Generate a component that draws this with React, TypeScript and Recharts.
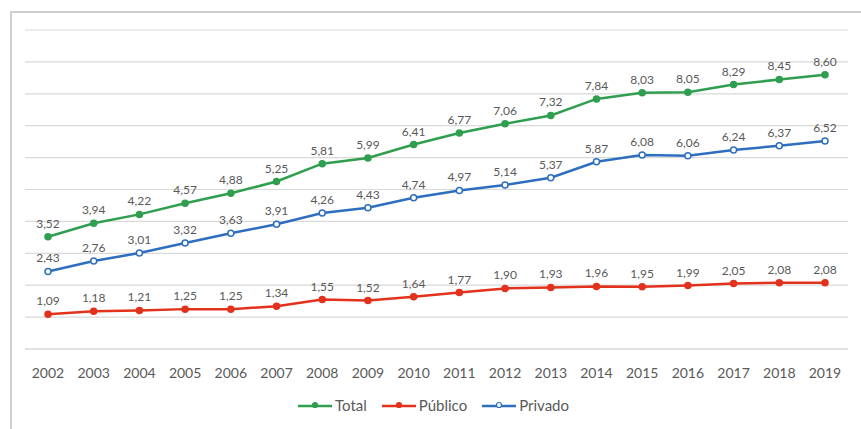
import React from "react";
import { LineChart, Line, XAxis, YAxis, CartesianGrid, LabelList } from "recharts";

const years = ["2002","2003","2004","2005","2006","2007","2008","2009","2010","2011","2012","2013","2014","2015","2016","2017","2018","2019"];
const total = [3.52,3.94,4.22,4.57,4.88,5.25,5.81,5.99,6.41,6.77,7.06,7.32,7.84,8.03,8.05,8.29,8.45,8.60];
const publico = [1.09,1.18,1.21,1.25,1.25,1.34,1.55,1.52,1.64,1.77,1.90,1.93,1.96,1.95,1.99,2.05,2.08,2.08];
const privado = [2.43,2.76,3.01,3.32,3.63,3.91,4.26,4.43,4.74,4.97,5.14,5.37,5.87,6.08,6.06,6.24,6.37,6.52];
const yTicks = [0,1,2,3,4,5,6,7,8,9,10];

const data = years.map((y, i) => ({ year: y, Total: total[i], Publico: publico[i], Privado: privado[i] }));

const series = [
  { key: "Total", name: "Total", color: "#2f9e4f", dotFill: "#2f9e4f" },
  { key: "Publico", name: "Público", color: "#e2321c", dotFill: "#e2321c" },
  { key: "Privado", name: "Privado", color: "#2d6ebf", dotFill: "#ffffff" },
];

const fmt = (v: any) => Number(v).toFixed(2).replace(".", ",");
const FONT = "Lato, 'Open Sans', sans-serif";

export default function App() {
  return (
    <div style={{ position: "absolute", left: 0, top: 0, width: 861, height: 429, background: "#fff", fontFamily: FONT }}>
      <div style={{ position: "absolute", left: 10, top: 11, width: 851, height: 418, borderLeft: "2px solid #cfcfcf", borderTop: "2px solid #cfcfcf", boxSizing: "border-box" }} />
      <div style={{ position: "absolute", left: 0, top: 0 }}>
        <LineChart width={861} height={429} data={data} margin={{ top: 30, right: 13, bottom: 50, left: 25 }}>
          <CartesianGrid vertical={false} stroke="#d9d9d9" strokeWidth={1.2} />
          <YAxis hide domain={[0, 10]} ticks={yTicks} />
          <XAxis
            dataKey="year"
            padding={{ left: 23, right: 23 }}
            axisLine={{ stroke: "#d9d9d9" }}
            tickLine={false}
            tickSize={0}
            tickMargin={19}
            interval={0}
            tick={{ fill: "#595959", fontSize: 14, fontFamily: FONT }}
          />
          {series.map((s) => (
            <Line
              key={s.key}
              type="linear"
              dataKey={s.key}
              name={s.name}
              stroke={s.color}
              strokeWidth={2.5}
              dot={{ r: 3, fill: s.dotFill, stroke: s.color, strokeWidth: 1.5 }}
              isAnimationActive={false}
            >
              <LabelList dataKey={s.key} position="top" offset={9} formatter={fmt} style={{ fill: "#595959", fontSize: 12, fontFamily: FONT }} />
            </Line>
          ))}
        </LineChart>
      </div>
      <div style={{ position: "absolute", left: 297, top: 396, display: "flex", alignItems: "center", fontSize: 15, color: "#595959" }}>
        {series.map((s, i) => (
          <div key={s.key} style={{ display: "flex", alignItems: "center", marginLeft: i === 0 ? 0 : 14 }}>
            <svg width={36} height={16}>
              <line x1={1} y1={9} x2={35} y2={9} stroke={s.color} strokeWidth={2.5} />
              <circle cx={18} cy={8} r={2.5} fill={s.dotFill} stroke={s.color} strokeWidth={1.2} />
            </svg>
            <span style={{ marginLeft: 2 }}>{s.name}</span>
          </div>
        ))}
      </div>
    </div>
  );
}
